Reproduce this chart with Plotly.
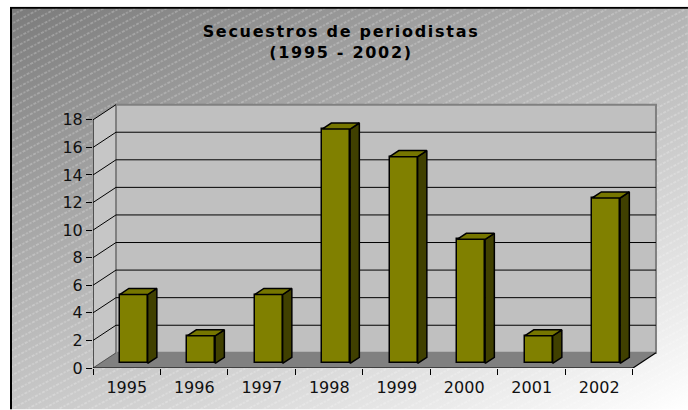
import base64
import plotly.graph_objects as go

# ---- data ----
years = ["1995", "1996", "1997", "1998", "1999", "2000", "2001", "2002"]
secuestros = [5, 2, 5, 17, 15, 9, 2, 12]
y_ticks = [0, 2, 4, 6, 8, 10, 12, 14, 16, 18]
title_lines = ["Secuestros de periodistas", "(1995 - 2002)"]

# ---- geometry (pixels / pseudo-3D) ----
W, H = 688, 410
X0PX, Y0PX = 93, 368.5        # pixel position of front origin
PXU_X, PXU_Y = 67.5, 13.8      # pixels per category / per unit
DX, DY = 23 / PXU_X, 15.2 / PXU_Y  # depth offset in data units
BAR_W = 0.415
D0, D1 = 0.3, 0.7               # depth span of bars
n = len(years)
YMAX = max(y_ticks)

XR0 = -0.5
XR1 = n - 0.5 + DX + 0.03
YR1 = YMAX + DY + 0.12
plotW = (XR1 - XR0) * PXU_X
plotH = YR1 * PXU_Y
ML = X0PX
MR = W - ML - plotW
MB = H - Y0PX
MT = H - MB - plotH

FRONT = "#808000"
SIDE = "#404000"
TOP = "#767600"

fig = go.Figure()

xs = list(range(n))
fig.add_trace(go.Bar(
    x=xs, y=secuestros, base=D0 * DY, width=BAR_W,
    offset=-BAR_W / 2 + D0 * DX,
    marker=dict(color=FRONT, line=dict(color="black", width=1.5)),
    hoverinfo="skip", showlegend=False,
))

ddx, ddy = (D1 - D0) * DX, (D1 - D0) * DY
for i, v in enumerate(secuestros):
    x0 = i - BAR_W / 2 + D0 * DX
    x1 = x0 + BAR_W
    yb = D0 * DY
    yt = v + D0 * DY
    fig.add_trace(go.Scatter(
        x=[x1, x1 + ddx, x1 + ddx, x1, x1],
        y=[yb, yb + ddy, yt + ddy, yt, yb],
        fill="toself", fillcolor=SIDE, mode="lines",
        line=dict(color="black", width=1.5),
        hoverinfo="skip", showlegend=False))
    fig.add_trace(go.Scatter(
        x=[x0, x0 + ddx, x1 + ddx, x1, x0],
        y=[yt, yt + ddy, yt + ddy, yt, yt],
        fill="toself", fillcolor=TOP, mode="lines",
        line=dict(color="black", width=1.5),
        hoverinfo="skip", showlegend=False))

L, R = -0.5, n - 0.5
shapes = []
# left wall
shapes.append(dict(type="path", layer="below",
                   path=f"M{L},0 L{L},{YMAX} L{L+DX},{YMAX+DY} L{L+DX},{DY} Z",
                   fillcolor="#c6c6c6", line=dict(width=0)))
# floor
shapes.append(dict(type="path", layer="below",
                   path=f"M{L},0 L{L+DX},{DY} L{R+DX},{DY} L{R},0 Z",
                   fillcolor="#808080", line=dict(width=0)))
# back wall
shapes.append(dict(type="rect", layer="below", x0=L + DX, x1=R + DX, y0=DY, y1=YMAX + DY,
                   fillcolor="#c0c0c0", line=dict(color="#808080", width=2)))
# back wall gridlines
for t in y_ticks[1:-1]:
    shapes.append(dict(type="line", layer="below", x0=L + DX, x1=R + DX, y0=t + DY, y1=t + DY,
                       line=dict(color="black", width=1)))
# left wall diagonals
for t in y_ticks[1:]:
    shapes.append(dict(type="line", layer="below", x0=L, x1=L + DX, y0=t, y1=t + DY,
                       line=dict(color="black", width=1)))
shapes.append(dict(type="line", layer="below", x0=L, x1=L + DX, y0=0, y1=DY,
                   line=dict(color="#505050", width=1)))
# front axes
shapes.append(dict(type="line", layer="below", x0=L, x1=R, y0=0, y1=0,
                   line=dict(color="black", width=1.2)))
shapes.append(dict(type="line", layer="below", x0=R, x1=R + DX, y0=0, y1=DY,
                   line=dict(color="black", width=1.2)))
shapes.append(dict(type="line", layer="below", x0=L, x1=L, y0=0, y1=YMAX,
                   line=dict(color="black", width=1.2)))

# background: gradient + hatch + border
bx, by = 10, 7
bw, bh = W - bx, H - by
svg = f'''<svg xmlns="http://www.w3.org/2000/svg" width="{bw}" height="{bh}" viewBox="0 0 {bw} {bh}">
<defs>
<linearGradient id="g" gradientUnits="userSpaceOnUse" x1="0" y1="0" x2="252" y2="586">
<stop offset="0" stop-color="#7b7b7b"/><stop offset="1" stop-color="#ffffff"/>
</linearGradient>
<pattern id="h" width="8" height="7.4" patternUnits="userSpaceOnUse" patternTransform="rotate(-28)">
<line x1="0" y1="1" x2="8" y2="1" stroke="#ffffff" stroke-opacity="0.45" stroke-width="1" stroke-dasharray="2 1.5"/>
</pattern>
</defs>
<rect width="{bw}" height="{bh}" fill="url(#g)"/>
<rect width="{bw}" height="{bh}" fill="url(#h)"/>
<path d="M1,{bh} L1,1 L{bw},1" fill="none" stroke="#000" stroke-width="2"/>
</svg>'''
src = "data:image/svg+xml;base64," + base64.b64encode(svg.encode()).decode()

fig.update_layout(
    width=W, height=H,
    margin=dict(l=ML, r=MR, t=MT, b=MB, pad=0),
    paper_bgcolor="white", plot_bgcolor="rgba(0,0,0,0)",
    shapes=shapes,
    images=[dict(source=src, xref="paper", yref="paper",
                 x=(bx - ML) / plotW, y=(Y0PX - by) / plotH,
                 sizex=bw / plotW, sizey=bh / plotH,
                 xanchor="left", yanchor="top", sizing="stretch", layer="below")],
    title=dict(text="<b>" + "<br>".join(title_lines) + "</b>",
               x=341 / W, y=1 - 37 / H, xref="container", yref="container",
               xanchor="center", yanchor="top",
               font=dict(family="DejaVu Sans", size=16, color="black")),
    xaxis=dict(range=[XR0, XR1], tickmode="array", tickvals=xs, ticktext=years,
               ticks="", showgrid=False, zeroline=False, showline=False,
               ticklabelstandoff=8,
               tickfont=dict(family="DejaVu Sans", size=16, color="#111"),
               minor=dict(tickmode="array", tickvals=[i - 0.5 for i in range(n + 1)],
                          ticks="outside", ticklen=6, tickcolor="black", tickwidth=1,
                          showgrid=False)),
    yaxis=dict(range=[0, YR1], tickmode="array", tickvals=y_ticks,
               ticks="outside", ticklen=6, tickcolor="black", tickwidth=1,
               showgrid=False, zeroline=False, showline=False,
               tickfont=dict(family="DejaVu Sans", size=16, color="#111")),
    bargap=0,
)

post = ("document.body.style.margin='0';"
        "var st=document.createElement('style');"
        "st.textContent='.gtitle{letter-spacing:1.7px;}';"
        "document.head.appendChild(st);")

fig.write_html("out.html", post_script=post, config={"displayModeBar": False})
